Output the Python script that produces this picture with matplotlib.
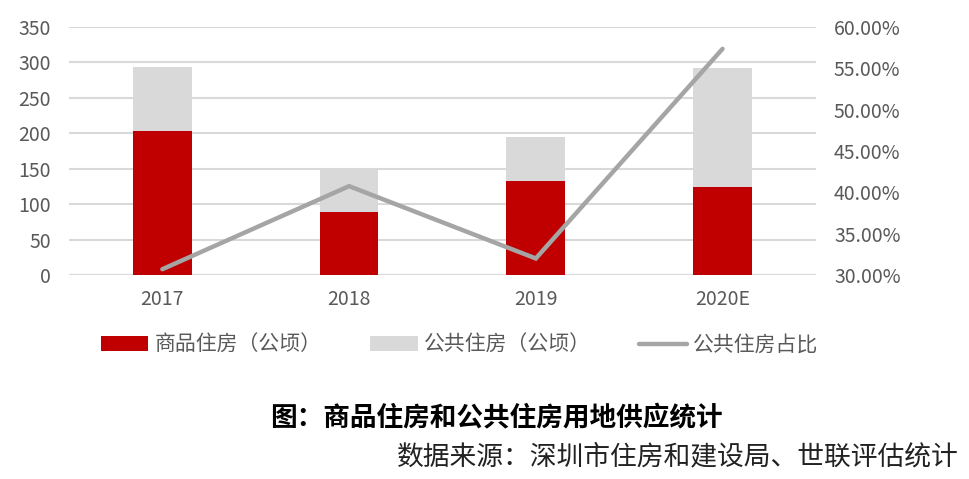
import matplotlib
matplotlib.use("Agg")
import matplotlib.pyplot as plt
from matplotlib.ticker import FuncFormatter

plt.rcParams['font.family'] = ['Noto Sans CJK SC', 'DejaVu Sans']

# data
years = ['2017', '2018', '2019', '2020E']
commercial = [203, 89, 132.5, 124]     # 商品住房（公顷）
public = [91, 61, 62.5, 168]           # 公共住房（公顷）
public_share = [0.307, 0.4075, 0.320, 0.5736]  # 公共住房占比
legend_labels = ['商品住房（公顷）', '公共住房（公顷）', '公共住房占比']

red = '#c00000'
lightgray = '#d9d9d9'
linegray = '#a5a5a5'
tickcol = '#595959'

fig = plt.figure(figsize=(9.69, 4.79), dpi=100)
ax = fig.add_axes([0.0712, 0.4259, 0.7708, 0.5177])
ax2 = ax.twinx()

x = list(range(len(years)))
b1 = ax.bar(x, commercial, width=0.315, color=red, zorder=2)
b2 = ax.bar(x, public, width=0.315, bottom=commercial, color=lightgray, zorder=2)
l1, = ax2.plot(x, public_share, color=linegray, lw=3.2, solid_capstyle='round',
               solid_joinstyle='miter', zorder=3)

ax.set_xlim(-0.5, 3.5)
ax.set_ylim(0, 350)
ax.set_yticks(range(0, 351, 50))
ax2.set_ylim(0.30, 0.60)
ax2.set_yticks([0.30, 0.35, 0.40, 0.45, 0.50, 0.55, 0.60])
ax2.yaxis.set_major_formatter(FuncFormatter(lambda v, p: f'{v*100:.2f}%'))

ax.set_xticks(x)
ax.set_xticklabels(years)
ax.grid(axis='y', color=lightgray, lw=1.5, zorder=0)
ax.set_axisbelow(True)

for a in (ax, ax2):
    for s in a.spines.values():
        s.set_visible(False)
    a.tick_params(length=0, labelsize=14, labelcolor=tickcol)
ax.tick_params(axis='y', pad=13)
ax.tick_params(axis='x', pad=10)
ax2.tick_params(axis='y', pad=13)
ax.axhline(0, color=lightgray, lw=1.5, zorder=1)

fig.legend(handles=[b1, b2, l1], labels=legend_labels,
           loc='center', bbox_to_anchor=(0.474, 1 - 345 / 479), ncol=3,
           frameon=False, fontsize=15, labelcolor=tickcol,
           handlelength=2.3, handletextpad=0.3, columnspacing=2.3)

fig.text(0.2786, 1 - 419 / 479, '图：商品住房和公共住房用地供应统计',
         fontsize=19.2, fontweight='bold', color='black', va='center', ha='left')
fig.text(0.989, 1 - 457 / 479, '数据来源：深圳市住房和建设局、世联评估统计',
         fontsize=19.3, color='#222222', va='center', ha='right')

fig.savefig('out.png', dpi=100)
